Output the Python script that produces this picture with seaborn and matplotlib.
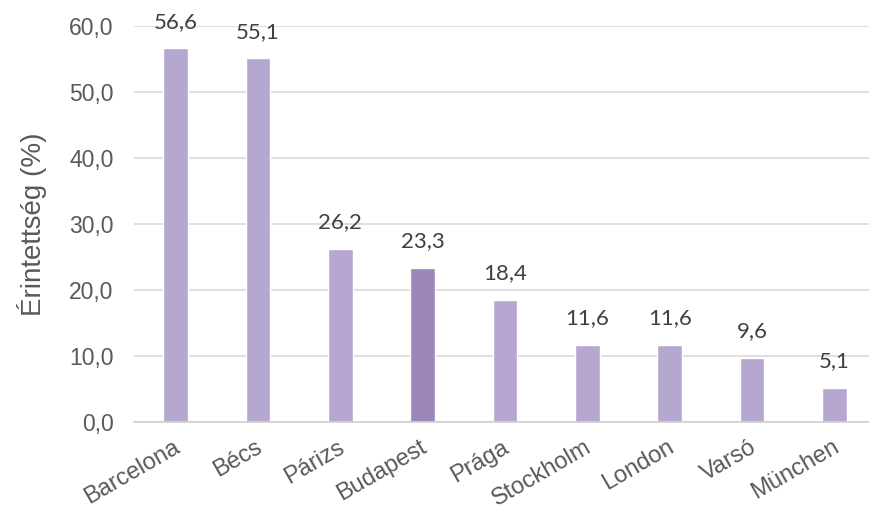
import matplotlib
matplotlib.use("Agg")
import matplotlib.pyplot as plt
import matplotlib.transforms as mtransforms
import seaborn as sns
import pandas as pd

cities = ["Barcelona", "Bécs", "Párizs", "Budapest", "Prága", "Stockholm", "London", "Varsó", "München"]
values = [56.6, 55.1, 26.2, 23.3, 18.4, 11.6, 11.6, 9.6, 5.1]
highlight = "Budapest"
y_ticks = [0, 10, 20, 30, 40, 50, 60]
y_label = "Érintettség (%)"

light = "#B5A7CF"
dark = "#9C86BA"

sns.set_theme(style="white")
plt.rcParams["font.family"] = ["Liberation Sans", "DejaVu Sans"]

df = pd.DataFrame({"city": cities, "value": values})
df["grp"] = ["hi" if c == highlight else "lo" for c in cities]

fig = plt.figure(figsize=(8.69, 5.07), dpi=100)
ax = fig.add_axes([134.3 / 869, 1 - 421.5 / 507, 741.4 / 869, (421.5 - 26) / 507])

sns.barplot(data=df, x="city", y="value", hue="grp", palette={"hi": dark, "lo": light},
            order=cities, width=0.30, dodge=False, legend=False, ax=ax, saturation=1)

ax.set_ylim(0, 60)
ax.set_yticks(y_ticks)
ax.set_yticklabels([f"{v:.1f}".replace(".", ",") for v in y_ticks], fontsize=16.5, color="#595959")
ax.yaxis.grid(True, color="#D9D9D9", linewidth=1.2)
ax.set_axisbelow(True)
for s in ["top", "right", "left"]:
    ax.spines[s].set_visible(False)
ax.spines["bottom"].set_color("#D0D0D0")
ax.spines["bottom"].set_linewidth(1.2)
ax.tick_params(axis="y", length=0, pad=15)
ax.tick_params(axis="x", length=0, pad=10.5)
ax.set_xlabel("")
ax.set_ylabel(y_label, fontsize=20, color="#595959", labelpad=16)

offset = mtransforms.ScaledTranslation(-3 / 100, 0, fig.dpi_scale_trans)
for lbl in ax.get_xticklabels():
    lbl.set_rotation(30)
    lbl.set_ha("right")
    lbl.set_va("top")
    lbl.set_rotation_mode("anchor")
    lbl.set_fontsize(17)
    lbl.set_color("#595959")
    lbl.set_transform(lbl.get_transform() + offset)

for i, v in enumerate(values):
    ax.annotate(f"{v:.1f}".replace(".", ","), (i, v), xytext=(0, 12), textcoords="offset points",
                ha="center", va="bottom", fontsize=16, color="#404040", family=["Lato", "DejaVu Sans"],
                annotation_clip=False)

fig.savefig("out.png", dpi=100)
